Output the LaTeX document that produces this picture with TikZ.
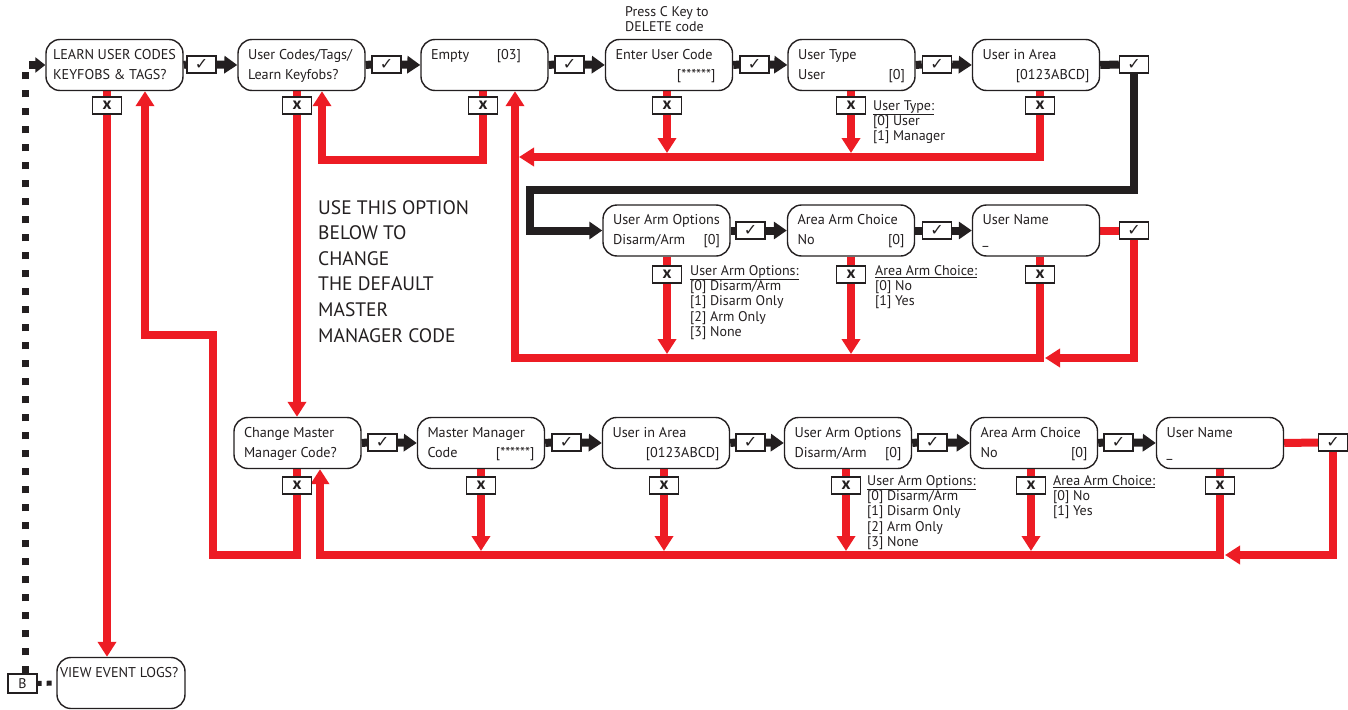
\documentclass[tikz,border=0pt]{standalone}
\usepackage{fontspec}
\setmainfont{PT Sans}
\newfontfamily\dejavu{DejaVu Sans}
\usetikzlibrary{arrows.meta,backgrounds}
\definecolor{rd}{HTML}{ED1C24}
\definecolor{ink}{HTML}{231F20}
\newcommand\bfnt{\fontsize{14.2}{20}\selectfont}
\newcommand\afnt{\fontsize{14}{15.3}\selectfont}
\newcommand\mfnt{\fontsize{19.5}{25.6}\selectfont}
\newcommand\bt[4]{\parbox{107pt}{\strut#1\hfill#2\\\strut#3\hfill#4}}
\begin{document}
\begin{tikzpicture}[x=1pt,y=-1pt,
  box/.style={draw=ink, fill=white, line width=1.4pt, rounded corners=14pt, minimum height=51pt, inner xsep=10pt, inner ysep=0pt, font=\bfnt, text=ink},
  chk/.style={draw=ink, fill=white, line width=1.4pt, minimum width=29pt, minimum height=17pt, inner sep=0pt, font=\dejavu\fontsize{16}{16}\selectfont, text=ink},
  xbx/.style={chk, font=\bfseries\fontsize{17}{17}\selectfont},
  blk/.style={draw=ink, line width=8pt},
  redl/.style={draw=rd, line width=8pt},
  ba/.style={-{Triangle[length=13pt,width=17pt]}},
  ra/.style={-{Triangle[length=15pt,width=18pt]}},
  ann/.style={font=\afnt, align=left, inner sep=0pt, anchor=north west, text=ink},
  dotl/.style={draw=ink, line width=7pt, dash pattern=on 7pt off 11pt},
]
\useasboundingbox (0,0) rectangle (1348,709);

% ---------- row 1
\node[box, inner xsep=7pt] (A1) at (114.5,65) {\parbox{123pt}{\strut LEARN USER CODES\\\strut KEYFOBS \& TAGS?}};
\node[box] (A2) at (301.5,65) {\bt{User Codes/Tags/}{}{Learn Keyfobs?}{}};
\node[box] (A3) at (484.5,65) {\bt{Empty}{[03]\hspace*{17pt}}{}{}};
\node[box] (A4) at (669,65) {\bt{Enter User Code}{}{}{[******]\hspace*{7pt}}};
\node[box] (A5) at (851.5,65) {\bt{User Type}{}{User}{[0]}};
\node[box] (A6) at (1036,65) {\bt{User in Area}{}{}{[0123ABCD]}};

\node[chk] (ca1) at (201.5,64.5) {✓};
\node[chk] (ca2) at (386.5,64.5) {✓};
\node[chk] (ca3) at (569.5,64.5) {✓};
\node[chk] (ca4) at (754.5,64.5) {✓};
\node[chk] (ca5) at (937,64.5) {✓};
\node[chk] (ca6) at (1134,64.5) {✓};

\node[xbx] (xa1) at (107,105.5) {x};
\node[xbx] (xa2) at (297,105.5) {x};
\node[xbx] (xa3) at (483,105.5) {x};
\node[xbx] (xa4) at (667,105.5) {x};
\node[xbx] (xa5) at (851,105.5) {x};
\node[xbx] (xa6) at (1040,105.5) {x};

% ---------- row 2
\node[box] (B1) at (666.5,230.5) {\bt{User Arm Options}{}{Disarm/Arm}{[0]}};
\node[box] (B2) at (851,230.5) {\bt{Area Arm Choice}{}{No}{[0]}};
\node[box] (B3) at (1036,230.5) {\bt{User Name}{}{\_}{}};

\node[chk] (cb1) at (750.5,230.5) {✓};
\node[chk] (cb2) at (937,230.5) {✓};
\node[chk] (cb3) at (1134,230.5) {✓};

\node[xbx] (xb1) at (667,274.5) {x};
\node[xbx] (xb2) at (851,274.5) {x};
\node[xbx] (xb3) at (1040,274.5) {x};

% ---------- row 3
\node[box] (C1) at (297.5,443) {\bt{Change Master}{}{Manager Code?}{}};
\node[box] (C2) at (481,443) {\bt{Master Manager}{}{Code}{[******]}};
\node[box] (C3) at (666,443) {\bt{User in Area}{}{}{[0123ABCD]}};
\node[box] (C4) at (848,443) {\bt{User Arm Options}{}{Disarm/Arm}{[0]}};
\node[box] (C5) at (1034,443) {\bt{Area Arm Choice}{}{No}{[0]}};
\node[box] (C6) at (1220,443) {\bt{User Name}{}{\_}{}};

\node[chk] (cc1) at (382.5,442.5) {✓};
\node[chk] (cc2) at (566.5,442.5) {✓};
\node[chk] (cc3) at (750.5,442.5) {✓};
\node[chk] (cc4) at (932.5,442.5) {✓};
\node[chk] (cc5) at (1118.5,442.5) {✓};
\node[chk] (cc6) at (1333,442.5) {✓};

\node[xbx] (xc1) at (297,485.5) {x};
\node[xbx] (xc2) at (481,485.5) {x};
\node[xbx] (xc3) at (664,485.5) {x};
\node[xbx] (xc4) at (846,485.5) {x};
\node[xbx] (xc5) at (1031,485.5) {x};
\node[xbx] (xc6) at (1220,485.5) {x};

% ---------- bottom
\node[box, inner xsep=3pt] (V) at (121,683) {\parbox{122pt}{\strut VIEW EVENT LOGS?\\\strut}};
\node[draw=ink, fill=white, line width=1.2pt, minimum width=29pt, minimum height=19pt, inner sep=0pt, font=\afnt, text=ink] (Bk) at (22.5,683.5) {B};

% ---------- texts
\node[ann] (n6) at (625,6) {Press C Key to\\DELETE code};
\node[ann] (n1) at (873,100) {\underline{User Type:}\\{}[0] User\\{}[1] Manager};
\node[ann] (n2) at (690,265) {\underline{User Arm Options:}\\{}[0] Disarm/Arm\\{}[1] Disarm Only\\{}[2] Arm Only\\{}[3] None};
\node[ann] (n3) at (875,265) {\underline{Area Arm Choice:}\\{}[0] No\\{}[1] Yes};
\node[ann] (n4) at (867,475) {\underline{User Arm Options:}\\{}[0] Disarm/Arm\\{}[1] Disarm Only\\{}[2] Arm Only\\{}[3] None};
\node[ann] (n5) at (1053,475) {\underline{Area Arm Choice:}\\{}[0] No\\{}[1] Yes};
\node[ann, font=\mfnt] (n7) at (318,200) {USE THIS OPTION\\BELOW TO\\CHANGE\\THE DEFAULT\\MASTER\\MANAGER CODE};

% ---------- bend points
\coordinate (k1) at (530,190);
\coordinate (k2) at (1045,358);
\coordinate (k3) at (515,358);
\coordinate (k4) at (213,555);
\coordinate (k5) at (145,335);
\coordinate (k6) at (322,160);
\coordinate (k7) at (519,157);
\coordinate (k8) at (320,555);
\coordinate (k9) at (1225,555);
\coordinate (k10) at (25.5,63);

\begin{scope}[on background layer]
% black flow
\draw[blk] (A1.east) -- (ca1.west);
\draw[blk,ba] (ca1.east) -- (A2.west);
\draw[blk] (A2.east) -- (ca2.west);
\draw[blk,ba] (ca2.east) -- (A3.west);
\draw[blk] (A3.east) -- (ca3.west);
\draw[blk,ba] (ca3.east) -- (A4.west);
\draw[blk] (A4.east) -- (ca4.west);
\draw[blk,ba] (ca4.east) -- (A5.west);
\draw[blk] (A5.east) -- (ca5.west);
\draw[blk,ba] (ca5.east) -- (A6.west);
\draw[blk] (A6.east) -- (ca6.west);
\draw[blk,ba] (ca6.south) |- (k1) |- (B1.west);

\draw[blk] (B1.east) -- (cb1.west);
\draw[blk,ba] (cb1.east) -- (B2.west);
\draw[blk] (B2.east) -- (cb2.west);
\draw[blk,ba] (cb2.east) -- (B3.west);
\draw[redl] (B3.east) -- (cb3.west);
\draw[redl,ra] (cb3.south) |- (k2);

\draw[blk] (C1.east) -- (cc1.west);
\draw[blk,ba] (cc1.east) -- (C2.west);
\draw[blk] (C2.east) -- (cc2.west);
\draw[blk,ba] (cc2.east) -- (C3.west);
\draw[blk] (C3.east) -- (cc3.west);
\draw[blk,ba] (cc3.east) -- (C4.west);
\draw[blk] (C4.east) -- (cc4.west);
\draw[blk,ba] (cc4.east) -- (C5.west);
\draw[blk] (C5.east) -- (cc5.west);
\draw[blk,ba] (cc5.east) -- (C6.west);
\draw[redl] (C6.east) -- (cc6.west);
\draw[redl,ra] (cc6.south) |- (k9);

% red returns, row 1
\draw[redl,ra] (xa1 |- A1.south) -- (xa1 |- V.north);
\draw[redl,ra] (xc1 |- C1.south) |- (k4) |- (k5) -- (k5 |- A1.south);
\draw[redl,ra] (xa2 |- A2.south) -- (xa2 |- C1.north);
\draw[redl,ra] (xa3 |- A3.south) |- (k6) -- (k6 |- A2.south);
\draw[redl,ra,shorten >=4pt] (xa4 |- A4.south) -- (xa4 |- k7);
\draw[redl,ra,shorten >=4pt] (xa5 |- A5.south) -- (xa5 |- k7);
\draw[redl,ra] (xa6 |- A6.south) |- (k7);
% row 2
\draw[redl,ra,shorten >=4pt] (xb1 |- B1.south) -- (xb1 |- k3);
\draw[redl,ra,shorten >=4pt] (xb2 |- B2.south) -- (xb2 |- k3);
\draw[redl,ra] (xb3 |- B3.south) |- (k3) -- (k3 |- A3.south);
% row 3
\draw[redl,ra,shorten >=4pt] (xc2 |- C2.south) -- (xc2 |- k8);
\draw[redl,ra,shorten >=4pt] (xc3 |- C3.south) -- (xc3 |- k8);
\draw[redl,ra,shorten >=4pt] (xc4 |- C4.south) -- (xc4 |- k8);
\draw[redl,ra,shorten >=4pt] (xc5 |- C5.south) -- (xc5 |- k8);
\draw[redl,ra] (xc6 |- C6.south) |- (k8) -- (k8 |- C1.south);

% dotted link
\draw[dotl,-{Triangle[length=10pt,width=15pt]}] (Bk.north -| k10) |- (A1.west);
\draw[draw=ink, line width=5pt, dash pattern=on 4pt off 5pt on 5pt off 30pt] (Bk.east) -- (V.west);
\end{scope}
\end{tikzpicture}
\end{document}
